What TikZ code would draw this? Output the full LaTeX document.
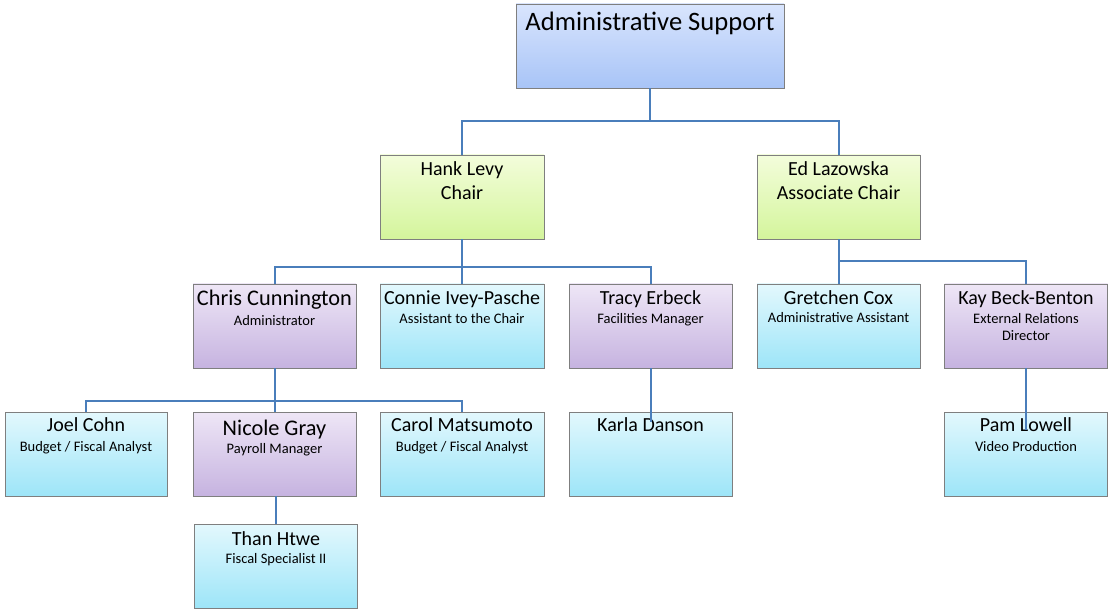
\documentclass[tikz,border=0pt]{standalone}
\usepackage{fontspec}
\setmainfont{Carlito}
\usetikzlibrary{shadows,calc}
\definecolor{connc}{HTML}{4A7EBB}
\definecolor{bordc}{HTML}{7F7F7F}
\definecolor{admT}{HTML}{D9E5FD}\definecolor{admB}{HTML}{A8C4F7}
\definecolor{grnT}{HTML}{F3FDDB}\definecolor{grnB}{HTML}{D4F59C}
\definecolor{purT}{HTML}{EEE6F6}\definecolor{purB}{HTML}{C6B3E0}
\definecolor{bluT}{HTML}{E3F8FD}\definecolor{bluB}{HTML}{9DE5F8}
\tikzset{
  box/.style={draw=bordc,line width=0.8pt,minimum height=84pt,inner sep=0pt,
    drop shadow={shadow xshift=0.8pt,shadow yshift=-1.2pt,fill=black,opacity=0.35}},
  admbox/.style={box,top color=admT,bottom color=admB},
  grnbox/.style={box,top color=grnT,bottom color=grnB},
  purbox/.style={box,top color=purT,bottom color=purB},
  blubox/.style={box,top color=bluT,bottom color=bluB},
  nm/.style={anchor=base,inner sep=0pt,font=\fontsize{20}{24}\selectfont},
  bignm/.style={anchor=base,inner sep=0pt,font=\fontsize{22.3}{26}\selectfont},
  ttl/.style={anchor=base,inner sep=0pt,font=\fontsize{26.6}{30}\selectfont},
  sub/.style={anchor=base,inner sep=0pt,font=\fontsize{14.5}{17}\selectfont},
  conn/.style={draw=connc,line width=2pt}
}
\newcommand\obox[5]{\node[#5,minimum width=#4pt] (#1) at (#2pt,-#3pt) {};}
\begin{document}
\begin{tikzpicture}[x=1pt,y=1pt]
\useasboundingbox (0,0) rectangle (1108,-612);
% boxes
\obox{admin}{650}{46}{268}{admbox}
\obox{hank}{462}{197}{164}{grnbox}
\obox{ed}{838.5}{197}{163}{grnbox}
\obox{chris}{274.5}{326}{163}{purbox}
\obox{connie}{462}{326}{164}{blubox}
\obox{tracy}{650.5}{326}{163}{purbox}
\obox{gretchen}{838.5}{326}{163}{blubox}
\obox{kay}{1026}{326}{163}{purbox}
\obox{joel}{86}{454}{162}{blubox}
\obox{nicole}{274.5}{454}{163}{purbox}
\obox{carol}{462}{454}{164}{blubox}
\obox{karla}{650.5}{454}{163}{blubox}
\obox{pam}{1026}{454}{163}{blubox}
\obox{than}{276}{566}{163}{blubox}
% texts
\node[ttl] (admin-a) at ([yshift=-27pt]admin.north) {Administrative Support};
\node[nm] (hank-a) at ([yshift=-21pt]hank.north) {Hank Levy};
\node[nm] (hank-b) at ([yshift=-45pt]hank.north) {Chair};
\node[nm] (ed-a) at ([yshift=-21pt]ed.north) {Ed Lazowska};
\node[nm] (ed-b) at ([yshift=-45pt]ed.north) {Associate Chair};
\node[bignm] (chris-a) at ([yshift=-22pt]chris.north) {Chris Cunnington};
\node[sub] (chris-b) at ([yshift=-42pt]chris.north) {Administrator};
\node[nm] (connie-a) at ([yshift=-21pt]connie.north) {Connie Ivey-Pasche};
\node[sub] (connie-b) at ([yshift=-40pt]connie.north) {Assistant to the Chair};
\node[nm] (tracy-a) at ([yshift=-21pt]tracy.north) {Tracy Erbeck};
\node[sub] (tracy-b) at ([yshift=-40pt]tracy.north) {Facilities Manager};
\node[nm] (gretchen-a) at ([yshift=-21pt]gretchen.north) {Gretchen Cox};
\node[sub] (gretchen-b) at ([yshift=-39pt]gretchen.north) {Administrative Assistant};
\node[nm] (kay-a) at ([yshift=-21pt]kay.north) {Kay Beck-Benton};
\node[sub] (kay-b) at ([yshift=-40pt]kay.north) {External Relations};
\node[sub] (kay-c) at ([yshift=-57pt]kay.north) {Director};
\node[nm] (joel-a) at ([yshift=-20pt]joel.north) {Joel Cohn};
\node[sub] (joel-b) at ([yshift=-40pt]joel.north) {Budget / Fiscal Analyst};
\node[bignm] (nicole-a) at ([yshift=-24pt]nicole.north) {Nicole Gray};
\node[sub] (nicole-b) at ([yshift=-42pt]nicole.north) {Payroll Manager};
\node[nm] (carol-a) at ([yshift=-20pt]carol.north) {Carol Matsumoto};
\node[sub] (carol-b) at ([yshift=-40pt]carol.north) {Budget / Fiscal Analyst};
\node[nm] (karla-a) at ([yshift=-20pt]karla.north) {Karla Danson};
\node[nm] (pam-a) at ([yshift=-20pt]pam.north) {Pam Lowell};
\node[sub] (pam-b) at ([yshift=-40pt]pam.north) {Video Production};
\node[nm] (than-a) at ([yshift=-21.5pt]than.north) {Than Htwe};
\node[sub] (than-b) at ([yshift=-40pt]than.north) {Fiscal Specialist II};
% connectors
\draw[conn] (admin.south) -- ++(0,-33) -| (hank.north);
\draw[conn] (admin.south) -- ++(0,-33) -| (ed.north);
\draw[conn] (hank.south) -- ++(0,-28) -| (chris.north);
\draw[conn] (hank.south) -- (connie.north);
\draw[conn] (hank.south) -- ++(0,-28) -| (tracy.north);
\draw[conn] (ed.south) -- ++(0,-22) -| (gretchen.north);
\draw[conn] (ed.south) -- ++(0,-22) -| (kay.north);
\draw[conn] (chris.south) -- ++(0,-33) -| (joel.north);
\draw[conn] (chris.south) -- (nicole.north);
\draw[conn] (chris.south) -- ++(0,-33) -| (carol.north);
\coordinate (karla-in) at ([yshift=-10pt]karla.north);
\coordinate (pam-in) at ([yshift=-18pt]pam.north);
\draw[conn] (tracy.south) -- (karla-in);
\draw[conn] (kay.south) -- (pam-in);
\draw[conn] (than.north) -- (than.north |- nicole.south);
\end{tikzpicture}
\end{document}
